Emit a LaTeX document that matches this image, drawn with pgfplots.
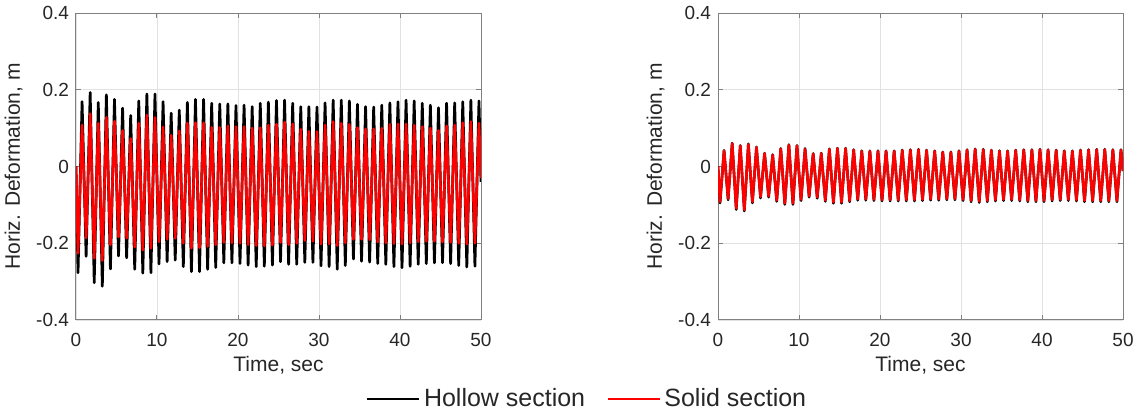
\documentclass[border=0pt]{standalone}
\usepackage{fontspec}
\setmainfont{Liberation Sans}
\usepackage{pgfplots}
\usepackage{pgfplotstable}
\pgfplotsset{compat=1.18}
\definecolor{axgray}{RGB}{128,128,128}
\definecolor{txtgray}{RGB}{38,38,38}
\definecolor{gridgray}{RGB}{225,225,225}

\pgfplotstableread{
t h s
0 0 0
0.25 -0.277 -0.226
0.75 0.169 0.108
1.25 -0.234 -0.186
1.75 0.193 0.138
2.25 -0.303 -0.239
2.75 0.167 0.113
3.25 -0.312 -0.245
3.75 0.187 0.128
4.25 -0.267 -0.204
4.75 0.175 0.118
5.25 -0.233 -0.184
5.75 0.152 0.094
6.25 -0.238 -0.187
6.75 0.133 0.073
7.25 -0.268 -0.210
7.75 0.171 0.113
8.25 -0.278 -0.218
8.75 0.189 0.134
9.25 -0.277 -0.213
9.75 0.189 0.128
10.25 -0.254 -0.196
10.75 0.169 0.103
11.25 -0.248 -0.190
11.75 0.139 0.082
12.25 -0.244 -0.187
12.75 0.147 0.093
13.25 -0.261 -0.200
13.75 0.167 0.113
14.25 -0.274 -0.213
14.75 0.175 0.114
15.25 -0.274 -0.212
15.75 0.175 0.114
16.25 -0.268 -0.208
16.75 0.165 0.102
17.25 -0.263 -0.204
17.75 0.163 0.102
18.25 -0.251 -0.198
18.75 0.163 0.106
19.25 -0.251 -0.199
19.75 0.159 0.104
20.25 -0.253 -0.200
20.75 0.160 0.104
21.25 -0.257 -0.204
21.75 0.156 0.100
22.25 -0.261 -0.206
22.75 0.165 0.101
23.25 -0.260 -0.207
23.75 0.168 0.108
24.25 -0.257 -0.205
24.75 0.172 0.110
25.25 -0.248 -0.198
25.75 0.173 0.116
26.25 -0.255 -0.204
26.75 0.165 0.111
27.25 -0.255 -0.200
27.75 0.156 0.097
28.25 -0.250 -0.193
28.75 0.156 0.092
29.25 -0.250 -0.195
29.75 0.155 0.091
30.25 -0.259 -0.202
30.75 0.166 0.108
31.25 -0.261 -0.202
31.75 0.173 0.117
32.25 -0.268 -0.206
32.75 0.173 0.113
33.25 -0.258 -0.199
33.75 0.171 0.110
34.25 -0.241 -0.190
34.75 0.162 0.101
35.25 -0.247 -0.190
35.75 0.156 0.098
36.25 -0.249 -0.191
36.75 0.155 0.098
37.25 -0.253 -0.197
37.75 0.160 0.100
38.25 -0.255 -0.199
38.75 0.166 0.110
39.25 -0.261 -0.201
39.75 0.169 0.111
40.25 -0.264 -0.202
40.75 0.173 0.111
41.25 -0.260 -0.199
41.75 0.171 0.108
42.25 -0.255 -0.196
42.75 0.165 0.104
43.25 -0.253 -0.195
43.75 0.160 0.100
44.25 -0.251 -0.195
44.75 0.153 0.094
45.25 -0.251 -0.197
45.75 0.165 0.106
46.25 -0.253 -0.198
46.75 0.166 0.108
47.25 -0.258 -0.200
47.75 0.169 0.114
48.25 -0.262 -0.202
48.75 0.173 0.117
49.25 -0.260 -0.200
49.75 0.171 0.113
50 -0.040 -0.030
}\leftdata

\pgfplotstableread{
t h s
0 0 0
0.25 -0.095 -0.092
0.75 0.042 0.041
1.25 -0.087 -0.084
1.75 0.061 0.060
2.25 -0.112 -0.109
2.75 0.055 0.054
3.25 -0.116 -0.113
3.75 0.059 0.058
4.25 -0.095 -0.092
4.75 0.051 0.050
5.25 -0.082 -0.079
5.75 0.035 0.034
6.25 -0.080 -0.077
6.75 0.031 0.030
7.25 -0.091 -0.088
7.75 0.047 0.046
8.25 -0.099 -0.096
8.75 0.057 0.056
9.25 -0.099 -0.096
9.75 0.055 0.054
10.25 -0.089 -0.086
10.75 0.047 0.045
11.25 -0.080 -0.077
11.75 0.034 0.033
12.25 -0.083 -0.080
12.75 0.035 0.034
13.25 -0.091 -0.088
13.75 0.046 0.045
14.25 -0.096 -0.093
14.75 0.048 0.047
15.25 -0.096 -0.093
15.75 0.048 0.047
16.25 -0.092 -0.089
16.75 0.044 0.043
17.25 -0.088 -0.085
17.75 0.041 0.040
18.25 -0.088 -0.085
18.75 0.041 0.040
19.25 -0.089 -0.086
19.75 0.041 0.040
20.25 -0.090 -0.087
20.75 0.041 0.040
21.25 -0.090 -0.087
21.75 0.041 0.040
22.25 -0.090 -0.087
22.75 0.043 0.042
23.25 -0.090 -0.087
23.75 0.044 0.043
24.25 -0.090 -0.087
24.75 0.045 0.044
25.25 -0.089 -0.086
25.75 0.043 0.042
26.25 -0.088 -0.085
26.75 0.041 0.040
27.25 -0.088 -0.085
27.75 0.038 0.037
28.25 -0.087 -0.084
28.75 0.038 0.037
29.25 -0.087 -0.084
29.75 0.041 0.040
30.25 -0.089 -0.086
30.75 0.044 0.043
31.25 -0.092 -0.089
31.75 0.046 0.045
32.25 -0.094 -0.091
32.75 0.045 0.044
33.25 -0.092 -0.089
33.75 0.043 0.042
34.25 -0.090 -0.087
34.75 0.041 0.040
35.25 -0.089 -0.086
35.75 0.041 0.040
36.25 -0.089 -0.086
36.75 0.043 0.042
37.25 -0.090 -0.087
37.75 0.044 0.043
38.25 -0.092 -0.089
38.75 0.044 0.043
39.25 -0.092 -0.089
39.75 0.045 0.044
40.25 -0.092 -0.089
40.75 0.044 0.043
41.25 -0.090 -0.087
41.75 0.043 0.042
42.25 -0.089 -0.086
42.75 0.041 0.040
43.25 -0.089 -0.086
43.75 0.041 0.040
44.25 -0.090 -0.087
44.75 0.043 0.042
45.25 -0.092 -0.089
45.75 0.044 0.043
46.25 -0.092 -0.089
46.75 0.045 0.044
47.25 -0.092 -0.089
47.75 0.045 0.044
48.25 -0.092 -0.089
48.75 0.044 0.043
49.25 -0.092 -0.089
49.75 0.044 0.043
50 -0.012 -0.012
}\rightdata

\pgfplotsset{panel/.style={
  scale only axis, width=202.5pt, height=153.5pt,
  xmin=0, xmax=50, ymin=-0.4, ymax=0.4,
  xtick={0,10,20,30,40,50}, xticklabels={0,10,20,30,40,50},
  ytick={-0.4,-0.2,0,0.2,0.4}, yticklabels={-0.4,-0.2,0,0.2,0.4},
  grid=major, major grid style={gridgray, line width=0.4pt},
  axis line style={axgray, line width=0.5pt},
  tick style={axgray, line width=0.5pt},
  tick align=inside, major tick length=2.5pt,
  ticklabel style={font=\fontsize{9.5}{11}\selectfont, text=txtgray},
  xticklabel style={yshift=-3pt},
  label style={font=\fontsize{10.5}{12}\selectfont, text=txtgray},
  xlabel={Time, sec}, ylabel={Horiz. Deformation, m},
  xlabel style={yshift=2pt},
  legend image code/.code={\draw[#1, line width=0.6pt] (0pt,0pt) -- (26pt,0pt);},
}}

\begin{document}
\begin{tikzpicture}
\path[use as bounding box] (0,0) rectangle (571pt,209pt);
\begin{axis}[panel, at={(38pt,49pt)}, anchor=south west,
  legend style={at={(1.2654,-0.2573)}, anchor=center, draw=none, fill=none,
    legend columns=2, font=\fontsize{12.5}{14}\selectfont, text=txtgray,
    /tikz/every even column/.append style={column sep=9pt},
    cells={anchor=west}}]
\addplot[black, line width=1.35pt, sharp plot, line join=round] table[x=t, y=h] {\leftdata};
\addlegendentry{Hollow section}
\addplot[red, line width=1.3pt, sharp plot, line join=round] table[x=t, y=s] {\leftdata};
\addlegendentry{Solid section}
\end{axis}
\begin{axis}[panel, at={(359pt,49pt)}, anchor=south west]
\addplot[black, line width=1.3pt, sharp plot, line join=round] table[x=t, y=h] {\rightdata};
\addplot[red, line width=1.3pt, sharp plot, line join=round] table[x=t, y=s] {\rightdata};
\end{axis}
\end{tikzpicture}
\end{document}
